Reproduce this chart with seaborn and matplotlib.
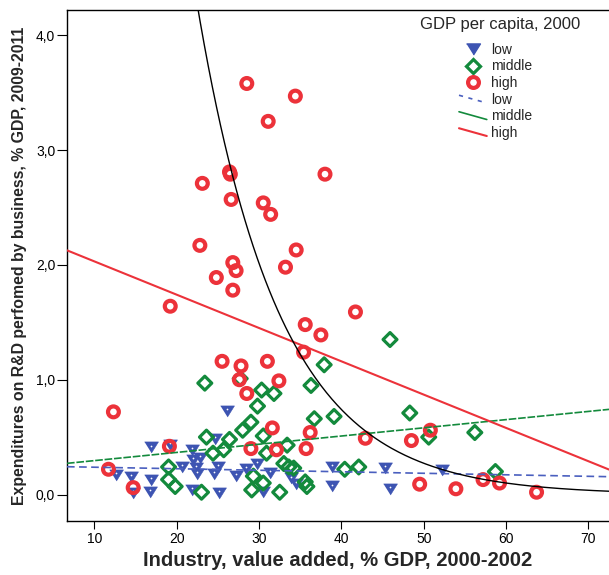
import numpy as np
import pandas as pd
import matplotlib
matplotlib.use("Agg")
import matplotlib.pyplot as plt
import matplotlib.transforms as mtransforms
from matplotlib.lines import Line2D
from matplotlib.legend_handler import HandlerLine2D
import seaborn as sns

# ---- data -------------------------------------------------------------
# Industry value added (% GDP, 2000-2002) vs business R&D spending (% GDP, 2009-2011)
low_x = [26.1, 16.9, 19.2, 21.8, 22.8, 24.6, 12.6, 14.4, 16.9, 14.7, 16.7,
         20.6, 22.3, 22.4, 22.0, 25.0, 24.5, 27.2, 28.4, 29.7, 21.9, 25.1,
         30.5, 31.3, 33.9, 34.5, 38.9, 38.8, 45.3, 45.9, 52.2]
low_y = [0.73, 0.41, 0.43, 0.39, 0.32, 0.48, 0.17, 0.15, 0.13, 0.01, 0.02,
         0.24, 0.23, 0.18, 0.30, 0.24, 0.18, 0.16, 0.22, 0.27, 0.04, 0.01,
         0.02, 0.19, 0.14, 0.09, 0.24, 0.07, 0.23, 0.05, 0.21]

middle_x = [23.4, 27.7, 30.3, 31.8, 29.8, 36.3, 37.9, 45.9, 36.7, 39.1, 29.0,
            28.0, 26.4, 30.5, 23.6, 33.4, 24.4, 25.7, 30.9, 33.0, 33.6, 34.2,
            40.4, 42.1, 19.0, 19.0, 19.8, 23.0, 29.3, 29.1, 30.5, 32.5, 35.6,
            35.8, 48.3, 50.6, 56.2, 58.7]
middle_y = [0.97, 1.01, 0.91, 0.88, 0.77, 0.95, 1.13, 1.35, 0.66, 0.68, 0.63,
            0.56, 0.48, 0.51, 0.50, 0.43, 0.36, 0.39, 0.36, 0.27, 0.24, 0.23,
            0.22, 0.24, 0.24, 0.13, 0.07, 0.02, 0.16, 0.04, 0.10, 0.02, 0.11,
            0.07, 0.71, 0.50, 0.54, 0.20]

high_x = [28.5, 34.4, 31.1, 26.4, 26.5, 38.0, 23.1, 26.6, 30.5, 31.4, 22.8,
          34.5, 26.8, 27.2, 33.2, 24.8, 26.8, 19.2, 41.7, 35.6, 37.5, 25.5,
          27.8, 31.0, 27.6, 32.4, 28.5, 35.4, 31.6, 36.2, 29.0, 32.1, 35.7,
          42.9, 12.3, 19.1, 11.7, 14.7, 48.5, 50.8, 49.5, 53.9, 57.2, 59.2,
          63.7]
high_y = [3.58, 3.47, 3.25, 2.81, 2.79, 2.79, 2.71, 2.57, 2.54, 2.44, 2.17,
          2.13, 2.02, 1.95, 1.98, 1.89, 1.78, 1.64, 1.59, 1.48, 1.39, 1.16,
          1.12, 1.16, 1.00, 0.99, 0.88, 1.24, 0.58, 0.54, 0.40, 0.39, 0.40,
          0.49, 0.72, 0.42, 0.22, 0.06, 0.47, 0.56, 0.09, 0.05, 0.13, 0.10,
          0.02]

# linear fit lines per group: (intercept, slope)
fit_low = (0.251, -0.00132)
fit_middle = (0.224, 0.00714)
fit_high = (2.32, -0.029)
# exponential fit over all countries: a * exp(b * x)
fit_total = (40.4, -0.100)

x_ticks = [10, 20, 30, 40, 50, 60, 70]
y_ticks = [0.0, 1.0, 2.0, 3.0, 4.0]
group_labels = ["low", "middle", "high"]

# ---- styling ----------------------------------------------------------
BLUE = "#3d54b2"
GREEN = "#138a3c"
RED = "#ec323a"

sns.set_theme(style="white")
plt.rcParams["font.family"] = ["Liberation Sans", "DejaVu Sans"]
plt.rcParams["lines.scale_dashes"] = False

W, H = 609, 575
fig = plt.figure(figsize=(W / 100, H / 100), dpi=100)
ax_left, ax_right, ax_top, ax_bottom = 67, 609, 10, 520.7
ax = fig.add_axes([ax_left / W, 1 - ax_bottom / H,
                   (ax_right - ax_left) / W, (ax_bottom - ax_top) / H])

XLIM = (6.66, 72.5)
YLIM = (-0.228, 4.22)

tri = [(-1.0, 0.8), (1.0, 0.8), (0.0, -0.8)]

df = pd.concat([
    pd.DataFrame({"x": low_x, "y": low_y, "grp": "low"}),
    pd.DataFrame({"x": middle_x, "y": middle_y, "grp": "middle"}),
    pd.DataFrame({"x": high_x, "y": high_y, "grp": "high"}),
])

d = df[df.grp == "low"]
sns.scatterplot(data=d, x="x", y="y", ax=ax, marker=tri, s=100,
                color=BLUE, edgecolor=BLUE, linewidth=0.4, zorder=3)
dot_shift = mtransforms.ScaledTranslation(0, 1.4 / 72, fig.dpi_scale_trans)
ax.scatter(d.x, d.y, s=1.6, color="white", linewidths=0, zorder=3.1,
           transform=ax.transData + dot_shift)

d = df[df.grp == "middle"]
sns.scatterplot(data=d, x="x", y="y", ax=ax, marker="D", s=50,
                color=GREEN, facecolor="none", edgecolor=GREEN,
                linewidth=2.3, zorder=4)

d = df[df.grp == "high"]
sns.scatterplot(data=d, x="x", y="y", ax=ax, marker="o", s=61,
                color=RED, facecolor="none", edgecolor=RED,
                linewidth=3.0, zorder=5)

# fit lines
xs = np.linspace(XLIM[0], XLIM[1], 2)
sns.lineplot(x=xs, y=fit_low[0] + fit_low[1] * xs, ax=ax, color="#4a5fbf",
             lw=1.2, zorder=6).lines[-1].set_dashes((5.5, 3.2))
sns.lineplot(x=xs, y=fit_middle[0] + fit_middle[1] * xs, ax=ax, color=GREEN,
             lw=1.2, zorder=6).lines[-1].set_dashes((5.5, 1.3))
sns.lineplot(x=xs, y=fit_high[0] + fit_high[1] * xs, ax=ax, color=RED,
             lw=1.5, zorder=6)
xc = np.linspace(XLIM[0], XLIM[1], 400)
sns.lineplot(x=xc, y=fit_total[0] * np.exp(fit_total[1] * xc), ax=ax,
             color="black", lw=1.0, zorder=6)

ax.set_xlim(*XLIM)
ax.set_ylim(*YLIM)

ax.set_xticks(x_ticks)
ax.set_xticklabels([str(t) for t in x_ticks])
ax.set_yticks(y_ticks)
ax.set_yticklabels([f"{t:.1f}".replace(".", ",") for t in y_ticks])
ax.tick_params(axis="x", direction="out", length=5.5, width=0.8, pad=2.5,
               labelsize=10, colors="black", bottom=True)
ax.tick_params(axis="y", direction="out", length=7, width=0.8, pad=1.5,
               labelsize=10, colors="black", left=True)

for side in ("left", "bottom", "top"):
    ax.spines[side].set_visible(True)
    ax.spines[side].set_color("black")
    ax.spines[side].set_linewidth(1.0)
ax.spines["right"].set_visible(False)
ax.grid(False)

ax.set_xlabel("Industry, value added, % GDP, 2000-2002", fontsize=14.5,
              fontweight="bold", labelpad=4)
ax.set_ylabel("Expenditures on R&D perfomed by business, % GDP, 2009-2011",
              fontsize=11.4, fontweight="bold", labelpad=6)


class SlantedLine(HandlerLine2D):
    def create_artists(self, legend, orig_handle, xdescent, ydescent,
                       width, height, fontsize, trans):
        line = Line2D([-xdescent, -xdescent + width],
                      [-ydescent + height * 0.85, -ydescent + height * 0.05])
        self.update_prop(line, orig_handle, legend)
        line.set_marker("")
        line.set_transform(trans)
        return [line]


h_low = Line2D([], [], ls="none", marker=tri, ms=10, color=BLUE, mec=BLUE)
h_mid = Line2D([], [], ls="none", marker="D", ms=7.1, mfc="none", mec=GREEN,
               mew=2.3)
h_high = Line2D([], [], ls="none", marker="o", ms=7.8, mfc="none", mec=RED,
                mew=3.0)
l_low = Line2D([], [], color="#4a5fbf", lw=1.2, dashes=(3, 4))
l_mid = Line2D([], [], color=GREEN, lw=1.2)
l_high = Line2D([], [], color=RED, lw=1.5)

handles = [h_low, h_mid, h_high, l_low, l_mid, l_high]
labels = group_labels + group_labels
fig.legend(handles, labels, loc="upper left",
           bbox_to_anchor=(459 / W, 1 - 43 / H), frameon=False, fontsize=10,
           numpoints=1, handlelength=2.0, handletextpad=0.3,
           labelspacing=0.18, borderpad=0, borderaxespad=0,
           handler_map={l_low: SlantedLine(), l_mid: SlantedLine(),
                        l_high: SlantedLine()})
fig.text(500 / W, 1 - 25 / H, "GDP per capita, 2000", fontsize=12,
         ha="center", va="center")

fig.savefig("out.png", dpi=100)
